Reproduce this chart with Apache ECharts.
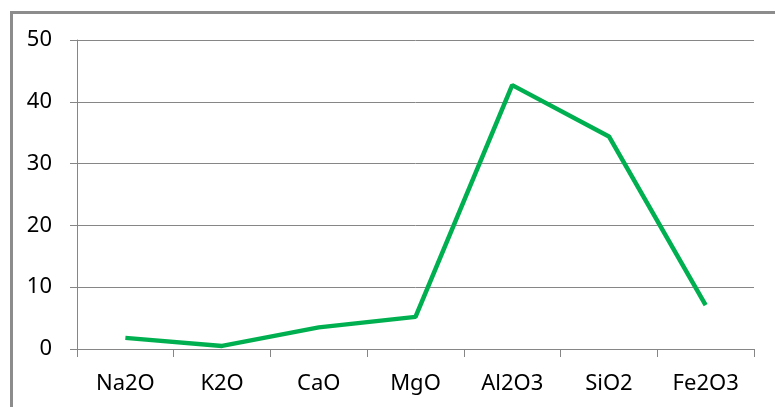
<!DOCTYPE html>
<html>
<head>
<meta charset="utf-8">
<script src="https://cdn.jsdelivr.net/npm/echarts@6/dist/echarts.min.js"></script>
<style>
html,body{margin:0;padding:0;background:#fff;}
#chart{width:775px;height:407px;}
</style>
</head>
<body>
<div id="chart"></div>
<script>
var categories = ['Na2O', 'K2O', 'CaO', 'MgO', 'Al2O3', 'SiO2', 'Fe2O3'];
var values = [1.8, 0.5, 3.5, 5.2, 42.7, 34.4, 7.1];
var yTicks = [0, 10, 20, 30, 40, 50];

var chart = echarts.init(document.getElementById('chart'), null, {renderer: 'canvas'});
var gray = '#868686';
chart.setOption({
  animation: false,
  backgroundColor: '#ffffff',
  graphic: [{
    type: 'rect',
    left: 9, top: 10,
    shape: {width: 820, height: 420},
    style: {fill: 'none', stroke: '#8c8c8c', lineWidth: 3},
    silent: true
  }],
  grid: {left: 77, right: 21, top: 40, bottom: 58, containLabel: false},
  xAxis: {
    type: 'category',
    data: categories,
    boundaryGap: true,
    axisLine: {lineStyle: {color: gray, width: 1}},
    axisTick: {show: true, length: 8, lineStyle: {color: gray}},
    axisLabel: {fontFamily: 'Noto Sans', fontSize: 22, color: '#000', margin: 24}
  },
  yAxis: {
    type: 'value',
    min: yTicks[0],
    max: yTicks[yTicks.length - 1],
    interval: 10,
    axisLine: {show: true, lineStyle: {color: gray, width: 1}},
    axisTick: {show: true, length: 7, lineStyle: {color: gray}},
    splitLine: {show: true, lineStyle: {color: gray, width: 1}},
    axisLabel: {fontFamily: 'Noto Sans', fontSize: 22, color: '#000', margin: 25}
  },
  series: [{
    type: 'line',
    data: values,
    showSymbol: false,
    symbol: 'none',
    lineStyle: {color: '#00b050', width: 4.5},
    itemStyle: {color: '#00b050'}
  }]
});
</script>
</body>
</html>
